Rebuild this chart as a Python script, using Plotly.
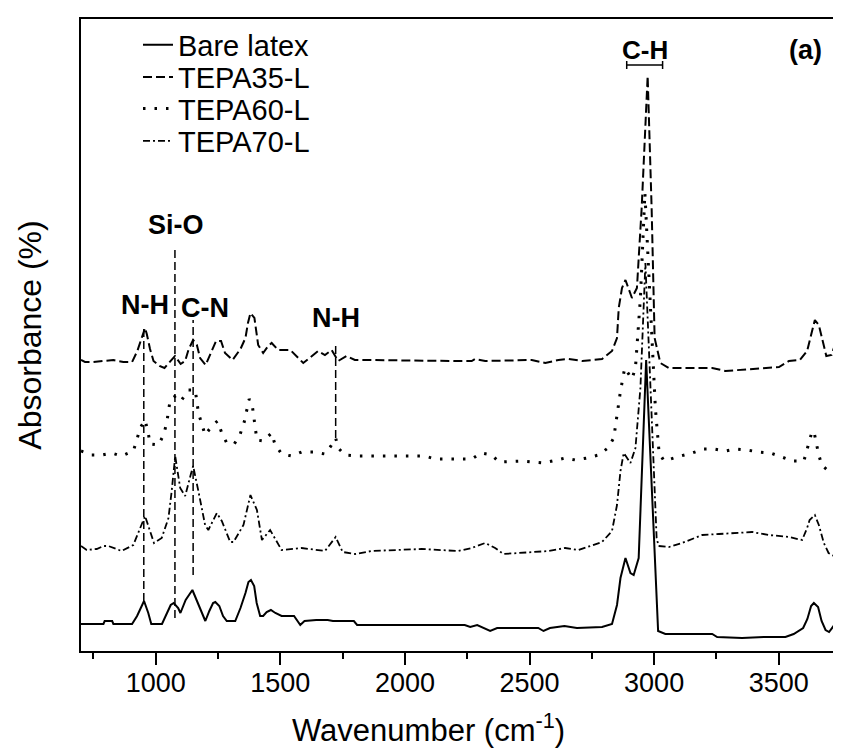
import plotly.graph_objects as go

# Wavenumber (cm^-1) and stacked absorbance (arbitrary units, offset spectra)
bare_x = [700, 790, 795, 825, 830, 905, 925, 953, 970, 982, 1025, 1045, 1060, 1072, 1090, 1099, 1120, 1147, 1175, 1199,
          1215, 1230, 1239, 1255, 1270, 1285, 1319, 1340, 1360, 1372, 1382, 1395, 1405, 1419, 1431, 1445, 1462, 1480,
          1505, 1555, 1580, 1597, 1644, 1690, 1711, 1795, 1808, 2240, 2262, 2290, 2342, 2370, 2535, 2556, 2582, 2640,
          2690, 2791, 2831, 2851, 2865, 2885, 2905, 2918, 2938, 2968, 3016, 3045, 3233, 3253, 3353, 3440, 3527, 3560,
          3598, 3615, 3630, 3641, 3658, 3672, 3688, 3702, 3720, 3733, 3748, 3766]
bare_y = [27, 27, 30, 30, 27, 27, 35, 50, 38, 27, 27, 38, 46, 48, 43, 38, 51, 61, 45, 30,
          40, 48, 49, 45, 35, 30, 30, 43, 58, 69, 71, 65, 48, 35, 35, 39, 41, 38,
          35, 35, 26, 30, 31, 31, 30, 30, 26, 26, 24, 26, 20, 23, 23, 20, 23, 25,
          23, 24, 27, 46, 73, 93, 78, 76, 93, 291, 20, 17, 17, 14, 13, 14, 14, 17,
          23, 32, 45, 48, 44, 30, 21, 19, 25, 25, 16, 14]

tepa35_x = [700, 716, 750, 790, 830, 870, 905, 926, 941, 957, 964, 977, 991, 1015, 1035, 1058, 1077, 1100, 1118, 1131,
            1150, 1165, 1178, 1200, 1225, 1242, 1262, 1278, 1308, 1340, 1360, 1370, 1380, 1396, 1411, 1431, 1451, 1465,
            1491, 1540, 1592, 1625, 1652, 1679, 1706, 1732, 1766, 1799, 1840, 2214, 2268, 2281, 2322, 2509, 2563, 2616,
            2656, 2711, 2791, 2831, 2851, 2858, 2871, 2885, 2911, 2931, 2950, 2974, 2990, 3002, 3025, 3059, 3233, 3286,
            3340, 3420, 3501, 3541, 3585, 3614, 3628, 3645, 3661, 3681, 3691, 3712, 3728, 3742, 3752, 3766]
tepa35_y = [291, 289, 289, 290, 291, 289, 289, 300, 311, 323, 317, 302, 290, 285, 283, 290, 295, 287, 290, 301,
            311, 306, 293, 286, 301, 310, 310, 298, 291, 302, 313, 328, 338, 333, 306, 298, 305, 308,
            301, 301, 288, 295, 300, 296, 301, 290, 295, 291, 291, 290, 290, 292, 290, 291, 288, 291,
            292, 290, 292, 300, 313, 343, 363, 371, 353, 363, 443, 575, 443, 313, 288, 283, 283, 280,
            281, 283, 284, 290, 291, 300, 313, 331, 326, 306, 295, 296, 308, 305, 294, 291]

tepa60_x = [700, 743, 783, 823, 863, 910, 924, 937, 957, 970, 977, 1011, 1031, 1044, 1051, 1058, 1084, 1104, 1131, 1158,
            1165, 1171, 1185, 1198, 1225, 1248, 1265, 1285, 1315, 1339, 1355, 1366, 1375, 1386, 1392, 1399, 1406, 1432,
            1465, 1478, 1505, 1545, 1585, 1632, 1679, 1703, 1722, 1732, 1759, 1813, 2080, 2121, 2268, 2305, 2348, 2378,
            2469, 2556, 2596, 2643, 2684, 2731, 2777, 2815, 2838, 2851, 2865, 2882, 2911, 2925, 2945, 2963, 2985, 3005,
            3020, 3040, 3106, 3152, 3199, 3239, 3286, 3326, 3373, 3420, 3467, 3514, 3557, 3601, 3619, 3632, 3641, 3648,
            3659, 3672, 3704, 3748, 3766]
tepa60_y = [200, 196, 196, 198, 195, 200, 211, 223, 231, 218, 207, 206, 216, 228, 240, 251, 256, 251, 261, 261,
            250, 238, 227, 216, 225, 230, 218, 208, 207, 217, 229, 240, 252, 248, 236, 225, 211, 210,
            218, 207, 197, 195, 199, 199, 197, 205, 213, 203, 196, 195, 195, 192, 192, 198, 196, 189,
            190, 188, 190, 193, 191, 193, 196, 203, 213, 236, 260, 283, 272, 283, 353, 458, 343, 243,
            198, 190, 195, 198, 202, 202, 200, 202, 201, 199, 198, 194, 190, 190, 206, 218, 220, 210,
            198, 186, 179, 177, 177]

tepa70_x = [700, 723, 763, 790, 810, 863, 910, 937, 957, 977, 993, 1024, 1051, 1064, 1078, 1098, 1118, 1140, 1150, 1171,
            1198, 1211, 1245, 1265, 1299, 1312, 1352, 1380, 1406, 1426, 1459, 1505, 1585, 1679, 1722, 1750, 1800, 1866,
            2067, 2214, 2268, 2322, 2362, 2395, 2576, 2643, 2697, 2791, 2831, 2851, 2865, 2878, 2905, 2925, 2945, 2965,
            2985, 3000, 3010, 3018, 3059, 3112, 3193, 3260, 3326, 3393, 3460, 3541, 3594, 3614, 3624, 3645, 3661, 3681,
            3700, 3722, 3748, 3766]
tepa70_y = [105, 101, 102, 105, 105, 100, 106, 123, 135, 120, 108, 113, 133, 160, 195, 163, 155, 176, 185, 160,
            126, 121, 138, 130, 109, 109, 126, 156, 141, 111, 121, 101, 103, 100, 114, 99, 97, 100,
            102, 100, 103, 108, 103, 97, 100, 103, 101, 109, 120, 146, 180, 198, 188, 203, 263, 388,
            263, 163, 113, 105, 104, 108, 116, 117, 118, 119, 116, 114, 111, 123, 131, 136, 126, 108,
            98, 95, 94, 94]

series_names = ["Bare latex", "TEPA35-L", "TEPA60-L", "TEPA70-L"]

# Band assignments: label, wavenumber, line bottom, line top, label position
band_labels = ["N-H", "Si-O", "C-N", "N-H"]
band_pos = [952, 1077, 1150, 1722]
band_lo = [50, 33, 76, 213]
band_hi = [326, 403, 331, 308]
band_text_x = [955, 1080, 1198, 1722]
band_text_y = [346, 426, 343, 333]

ch_range = [2890, 3034]
ch_level = 586

x_tick_vals = [1000, 1500, 2000, 2500, 3000, 3500]

FONT = "Liberation Sans, Arial, sans-serif"

fig = go.Figure()
styles = [
    dict(color="black", width=2, dash="solid"),
    dict(color="black", width=2, dash="9px,4px"),
    dict(color="black", width=3, dash="2.5px,9px"),
    dict(color="black", width=1.8, dash="7px,3px,2px,3px"),
]
legend_ids = ["legend", "legend2", "legend3", "legend4"]
for name, xs, ys, st, lg in zip(series_names,
                                [bare_x, tepa35_x, tepa60_x, tepa70_x],
                                [bare_y, tepa35_y, tepa60_y, tepa70_y], styles, legend_ids):
    fig.add_trace(go.Scatter(x=xs, y=ys, mode="lines", name=name, line=st, legend=lg))

for lab, xp, lo, hi, tx, ty in zip(band_labels, band_pos, band_lo, band_hi, band_text_x, band_text_y):
    fig.add_shape(type="line", x0=xp, x1=xp, y0=lo, y1=hi, xref="x", yref="y",
                  line=dict(color="black", width=1.5, dash="8px,4px"))
    fig.add_annotation(x=tx, y=ty, text="<b>%s</b>" % lab, showarrow=False, xref="x", yref="y",
                       font=dict(family=FONT, size=27, color="black"))

fig.add_shape(type="line", x0=ch_range[0], x1=ch_range[1], y0=ch_level, y1=ch_level,
              xref="x", yref="y", line=dict(color="black", width=1.5))
for xe in ch_range:
    fig.add_shape(type="line", x0=xe, x1=xe, y0=ch_level - 4, y1=ch_level + 4,
                  xref="x", yref="y", line=dict(color="black", width=1.5))
fig.add_annotation(x=sum(ch_range) / 2, y=601, text="<b>C-H</b>", showarrow=False, xref="x", yref="y",
                   font=dict(family=FONT, size=26, color="black"))
fig.add_annotation(x=3609, y=601, text="<b>(a)</b>", showarrow=False, xref="x", yref="y",
                   font=dict(family=FONT, size=27, color="black"))

# x-axis title (placed slightly left of centre, as in the original)
fig.add_annotation(x=0.455, y=-0.122, xref="paper", yref="paper", showarrow=False,
                   text="Wavenumber (cm<sup>-1</sup>)", xanchor="center", yanchor="middle",
                   font=dict(family=FONT, size=31, color="black"))

legend_y = [0.959, 0.908, 0.858, 0.807]
legend_common = dict(x=0.0746, xanchor="left", yanchor="middle", bgcolor="rgba(0,0,0,0)",
                     font=dict(family=FONT, size=29, color="black"), itemwidth=30)
layout_legends = {}
for lg, yy in zip(legend_ids, legend_y):
    layout_legends[lg] = dict(y=yy, **legend_common)

fig.update_layout(
    width=841, height=755,
    margin=dict(l=73, r=4, t=11, b=112),
    paper_bgcolor="white", plot_bgcolor="white",
    font=dict(family=FONT, color="black"),
    showlegend=True,
    xaxis=dict(range=[700, 3766], tickvals=x_tick_vals, ticks="outside", ticklen=12, tickwidth=1.5,
               tickcolor="black", showline=True, linecolor="black", linewidth=2, mirror=True,
               showgrid=False, zeroline=False, automargin=False, ticklabelstandoff=-5,
               tickfont=dict(family=FONT, size=27, color="black"),
               minor=dict(dtick=250, tick0=750, ticks="outside", ticklen=6, tickwidth=1.5, tickcolor="black",
                          showgrid=False)),
    yaxis=dict(range=[0, 632], showticklabels=False, ticks="", showline=True, linecolor="black",
               linewidth=2, mirror=True, showgrid=False, zeroline=False, automargin=False,
               title=dict(text="Absorbance (%)", standoff=28,
                          font=dict(family=FONT, size=32, color="black"))),
    **layout_legends,
)

fig.write_html("out.html")
